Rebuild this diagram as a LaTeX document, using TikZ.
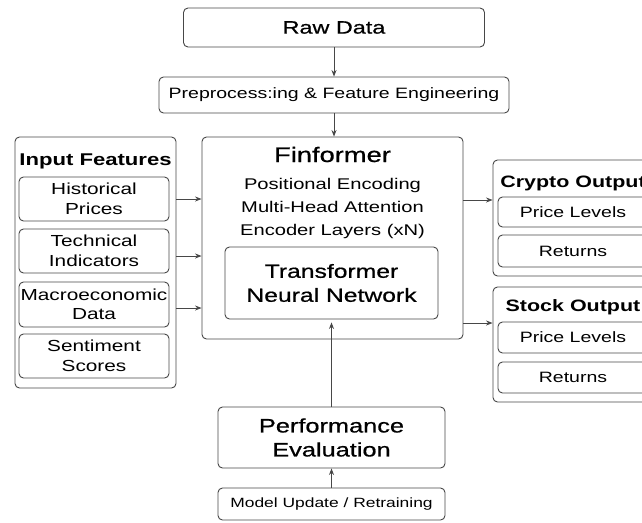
\documentclass[tikz,border=0pt]{standalone}
\usepackage{fontspec}
\setmainfont{Liberation Sans}[FakeStretch=1.3]
\newfontfamily\medfont{Liberation Sans}[FakeStretch=1.3, FakeBold=0.7]
\usetikzlibrary{arrows.meta}
\begin{document}
\begin{tikzpicture}[x=1pt,y=-1pt,
  box/.style={draw=black!72, line width=0.9pt, rounded corners=4.5pt, inner sep=1pt, align=center, fill=white},
  arr/.style={draw=black!72, line width=0.9pt, -{Stealth[length=6.5pt,width=5pt]}},
  lbl/.style={anchor=base, inner sep=0pt}
]
\useasboundingbox (0,0) rectangle (642,522);
\clip (0,0) rectangle (642,522);

% top
\node[box, minimum width=301pt, minimum height=39pt, font=\medfont\fontsize{18}{21}\selectfont] (raw) at (334,27.5) {Raw Data};
\node[box, minimum width=350pt, minimum height=36pt, font=\fontsize{15}{18}\selectfont] (prep) at (334,95) {Preprocess:ing \& Feature Engineering};

% Finformer
\node[box, minimum width=261pt, minimum height=202pt] (fin) at (332.5,238) {};
\node[lbl, font=\medfont\fontsize{21}{24}\selectfont] (fint) at (332.5,162) {Finformer};
\node[lbl, font=\fontsize{15.5}{18}\selectfont] (pe) at (332.5,189) {Positional Encoding};
\node[lbl, font=\fontsize{15.5}{18}\selectfont] (mha) at (332.5,212) {Multi-Head Attention};
\node[lbl, font=\fontsize{15.5}{18}\selectfont] (enc) at (332.5,235) {Encoder Layers (xN)};
\node[box, minimum width=213pt, minimum height=72pt, font=\medfont\fontsize{19}{24}\selectfont] (tnn) at (331.5,283) {Transformer\\Neural Network};

% Input features
\node[box, minimum width=161pt, minimum height=251pt] (inp) at (95.5,262.5) {};
\node[lbl, font=\bfseries\fontsize{17}{20}\selectfont] (inpt) at (95.5,165) {Input Features};
\node[box, minimum width=150pt, minimum height=44pt, font=\fontsize{16}{19.5}\selectfont] (hist) at (94,199) {Historical\\Prices};
\node[box, minimum width=150pt, minimum height=44pt, font=\fontsize{16}{19.5}\selectfont] (tech) at (94,251) {Technical\\Indicators};
\node[box, minimum width=150pt, minimum height=45pt, font=\fontsize{16}{19.5}\selectfont] (macro) at (94,304.5) {Macroeconomic\\Data};
\node[box, minimum width=150pt, minimum height=44pt, font=\fontsize{16}{19.5}\selectfont] (sent) at (94,356) {Sentiment\\Scores};

% Crypto output
\node[box, minimum width=160pt, minimum height=116pt] (cry) at (573,218) {};
\node[lbl, font=\bfseries\fontsize{16.5}{20}\selectfont] (cryt) at (573,187) {Crypto Output};
\node[box, minimum width=150pt, minimum height=30pt, font=\fontsize{15}{18}\selectfont] (cpl) at (573,212) {Price Levels};
\node[box, minimum width=150pt, minimum height=32pt, font=\fontsize{15}{18}\selectfont] (cret) at (573,251) {Returns};

% Stock output
\node[box, minimum width=160pt, minimum height=115pt] (stk) at (573,344.5) {};
\node[lbl, font=\bfseries\fontsize{16.5}{20}\selectfont] (stkt) at (573,311) {Stock Output};
\node[box, minimum width=150pt, minimum height=31pt, font=\fontsize{15}{18}\selectfont] (spl) at (573,337.5) {Price Levels};
\node[box, minimum width=150pt, minimum height=31pt, font=\fontsize{15}{18}\selectfont] (sret) at (573,377.5) {Returns};

% bottom
\node[box, minimum width=227pt, minimum height=61pt, font=\medfont\fontsize{19.5}{24}\selectfont] (perf) at (331.5,437.5) {Performance\\Evaluation};
\node[box, minimum width=227pt, minimum height=32pt, font=\fontsize{13.4}{16}\selectfont] (model) at (331.5,504) {Model Update / Retraining};

% levels
\coordinate (ya) at (0,199);
\coordinate (yb) at (0,256);
\coordinate (yc) at (0,308);
\coordinate (yd) at (0,200);
\coordinate (ye) at (0,323);

% connectors
\draw[arr] (raw.south) -- (prep.north);
\draw[arr] (prep.south) -- (prep.south |- fin.north);
\draw[arr] (inp.east |- ya) -- (fin.west |- ya);
\draw[arr] (inp.east |- yb) -- (fin.west |- yb);
\draw[arr] (inp.east |- yc) -- (fin.west |- yc);
\draw[arr] (fin.east |- yd) -- (cry.west |- yd);
\draw[arr] (fin.east |- ye) -- (stk.west |- ye);
\draw[arr, shorten >=3pt] (perf.north) -- (perf.north |- tnn.south);
\draw[arr] (model.north) -- (perf.south);
\end{tikzpicture}
\end{document}
